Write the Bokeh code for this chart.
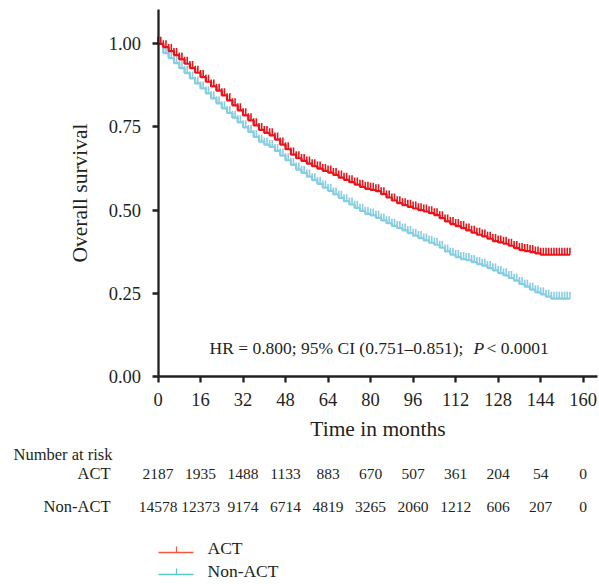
import math
from bokeh.plotting import figure
from bokeh.models import Range1d, LinearAxis, FixedTicker, NumeralTickFormatter
from bokeh.embed import file_html
from bokeh.resources import INLINE
from bokeh.core.properties import value

# ---------------- data ----------------
months = [0, 2, 4, 6, 8, 10, 12, 14, 16, 18, 20, 22, 24, 26, 28, 30, 32, 34, 36, 38,
          40, 42, 44, 46, 48, 50, 52, 54, 56, 58, 60, 62, 64, 66, 68, 70, 72, 74, 76, 78,
          80, 82, 84, 86, 88, 90, 92, 94, 96, 98, 100, 102, 104, 106, 108, 110, 112, 114, 116, 118,
          120, 122, 124, 126, 128, 130, 132, 134, 136, 138, 140, 142, 144, 146, 148, 150, 152, 154, 155]

act_surv = [1.000, 0.990, 0.978, 0.966, 0.953, 0.940, 0.927, 0.913, 0.900, 0.886,
            0.872, 0.859, 0.845, 0.830, 0.815, 0.800, 0.785, 0.770, 0.755, 0.741,
            0.732, 0.725, 0.712, 0.697, 0.683, 0.667, 0.656, 0.648, 0.640, 0.632,
            0.625, 0.618, 0.613, 0.606, 0.598, 0.591, 0.584, 0.577, 0.570, 0.564,
            0.561, 0.557, 0.548, 0.538, 0.529, 0.521, 0.515, 0.510, 0.505, 0.500,
            0.496, 0.491, 0.485, 0.476, 0.466, 0.458, 0.452, 0.446, 0.439, 0.432,
            0.426, 0.421, 0.414, 0.407, 0.403, 0.399, 0.393, 0.386, 0.380, 0.377,
            0.374, 0.370, 0.366, 0.366, 0.366, 0.366, 0.366, 0.366, 0.366]

nonact_surv = [1.000, 0.972, 0.957, 0.942, 0.927, 0.912, 0.896, 0.881, 0.866, 0.851,
               0.836, 0.821, 0.806, 0.792, 0.778, 0.764, 0.749, 0.735, 0.720, 0.706,
               0.697, 0.690, 0.678, 0.664, 0.650, 0.636, 0.622, 0.612, 0.601, 0.590,
               0.579, 0.568, 0.558, 0.547, 0.537, 0.527, 0.517, 0.507, 0.498, 0.489,
               0.484, 0.477, 0.469, 0.461, 0.453, 0.446, 0.439, 0.431, 0.423, 0.416,
               0.409, 0.402, 0.396, 0.387, 0.376, 0.366, 0.359, 0.353, 0.350, 0.344,
               0.338, 0.333, 0.326, 0.319, 0.311, 0.304, 0.296, 0.288, 0.278, 0.270,
               0.261, 0.253, 0.247, 0.240, 0.234, 0.234, 0.234, 0.234, 0.234]

x_ticks = [0, 16, 32, 48, 64, 80, 96, 112, 128, 144, 160]
y_ticks = [0.0, 0.25, 0.5, 0.75, 1.0]

act_at_risk = [2187, 1935, 1488, 1133, 883, 670, 507, 361, 204, 54, 0]
nonact_at_risk = [14578, 12373, 9174, 6714, 4819, 3265, 2060, 1212, 606, 207, 0]

group_names = ["ACT", "Non-ACT"]

# ---------------- style ----------------
FONT = "Liberation Serif"
INK = "#231f20"
RED = "#e6161d"
BLUE = "#86cde1"
LEG_RED = "#f05a3c"
LEG_TEAL = "#5cc8c8"

W, H = 598, 583
X0_PAGE, PX_PER_MONTH = 157.5, 2.6575
Y0_PAGE, PX_PER_UNIT = 376.0, 332.7
ORIGIN = 0  # canvas top-left in the page screenshot


def mx(page_x):
    return (page_x - X0_PAGE) / PX_PER_MONTH


def vy(page_y):
    return (Y0_PAGE - page_y) / PX_PER_UNIT


p = figure(width=W, height=H,
           x_range=Range1d(mx(ORIGIN), mx(ORIGIN + W)),
           y_range=Range1d(vy(ORIGIN + H), vy(ORIGIN)),
           x_axis_type=None, y_axis_type=None,
           toolbar_location=None, output_backend="svg", min_border=0)
p.outline_line_color = None
p.background_fill_color = "white"
p.border_fill_color = "white"

# axes
xaxis = LinearAxis(fixed_location=0, bounds=(0, mx(597)),
                   ticker=FixedTicker(ticks=x_ticks), axis_label="Time in months")
yaxis = LinearAxis(fixed_location=0, bounds=(0, vy(9.3)),
                   ticker=FixedTicker(ticks=y_ticks), axis_label="Overall survival",
                   formatter=NumeralTickFormatter(format="0.00"))
for ax in (xaxis, yaxis):
    ax.axis_line_width = 2.3
    ax.axis_line_color = INK
    ax.major_tick_line_width = 2.3
    ax.major_tick_line_color = INK
    ax.major_tick_out = 6
    ax.major_tick_in = 0
    ax.minor_tick_out = 0
    ax.minor_tick_in = 0
    ax.major_label_text_font = FONT
    ax.major_label_text_font_size = "18.5px"
    ax.major_label_text_color = INK
    ax.axis_label_text_font = FONT
    ax.axis_label_text_font_size = "21.5px"
    ax.axis_label_text_font_style = "normal"
    ax.axis_label_text_color = INK
xaxis.major_label_standoff = 10
xaxis.axis_label_standoff = 8
yaxis.major_label_standoff = 11
yaxis.axis_label_standoff = 14
p.add_layout(xaxis, "below")
p.add_layout(yaxis, "left")

# survival curves with censor marks
for surv, col in ((nonact_surv, BLUE), (act_surv, RED)):
    p.step(months, surv, mode="after", line_color=col, line_width=2.2)
    p.ray(x=months, y=surv, length=7, length_units="screen", angle=math.pi / 2,
          line_color=col, line_width=1.6)
    mid_t = [t + 1 for t in months[:-2]]
    p.ray(x=mid_t, y=surv[:-2], length=7, length_units="screen", angle=math.pi / 2,
          line_color=col, line_width=1.6)

# HR annotation
txt_kw = dict(text_font=value(FONT), text_font_size="17.5px", text_color=INK,
              text_baseline="middle", text_align="left")
p.text(x=[mx(209)], y=[vy(347)], text=["HR = 0.800; 95% CI (0.751\u20130.851);"], **txt_kw)
p.text(x=[mx(473)], y=[vy(347)], text=["P"], text_font_style="italic", **txt_kw)
p.text(x=[mx(486)], y=[vy(347)], text=["< 0.0001"], **txt_kw)

# number at risk table
tbl_kw = dict(text_font=value(FONT), text_font_size="15.5px", text_color=INK,
              text_baseline="middle")
p.text(x=[mx(112)], y=[vy(454)], text=["Number at risk"], text_align="right",
       text_font=value(FONT), text_font_size="16.5px", text_color=INK, text_baseline="middle")
row_y = [vy(473), vy(506)]
for name, ry, risk in zip(group_names, row_y, (act_at_risk, nonact_at_risk)):
    p.text(x=[mx(110)], y=[ry], text=[name], text_align="right",
           text_font=value(FONT), text_font_size="16.5px", text_color=INK, text_baseline="middle")
    p.text(x=x_ticks, y=[ry] * len(x_ticks), text=[str(n) for n in risk],
           text_align="center", **tbl_kw)

# legend
for name, col, ly, ty in zip(group_names, (LEG_RED, LEG_TEAL), (552, 574), (547, 570)):
    p.segment(x0=[mx(158)], y0=[vy(ly)], x1=[mx(193)], y1=[vy(ly)], line_color=col, line_width=1.6)
    p.ray(x=[mx(176)], y=[vy(ly)], length=6, length_units="screen", angle=math.pi / 2,
          line_color=col, line_width=1.2)
    p.text(x=[mx(207)], y=[vy(ty)], text=[name], text_align="left",
           text_font=value(FONT), text_font_size="17.5px", text_color=INK, text_baseline="middle")

open("out.html", "w").write(file_html(p, INLINE))
